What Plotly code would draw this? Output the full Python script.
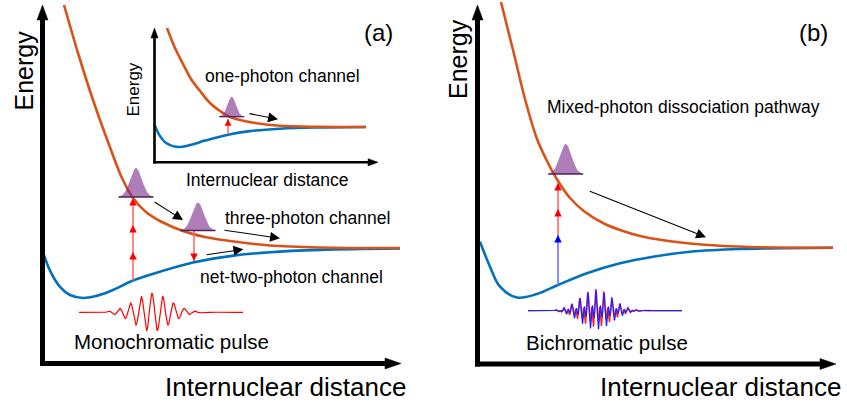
import numpy as np
import plotly.graph_objects as go

W, H = 847, 409
FONT = "Liberation Sans, Arial, Helvetica, sans-serif"

BLUE = "#0072BD"
ORANGE = "#D95319"
PURPLE_FILL = "rgba(126,47,142,0.62)"
PURPLE_LINE = "#4a2456"

# ---------------- potential curves (arbitrary units) ----------------
# panel (a), main diagram
a_ground_R = [1, 8, 18, 28, 41, 53, 68, 91, 118, 151, 188, 228, 278, 358]
a_ground_E = [110.9, 92.4, 76.1, 68.0, 65.0, 66.7, 71.7, 82.5, 91.3, 100.5, 106.9, 110.8, 113.1, 114.5]
a_excited_R = [22, 36, 51, 69, 80, 91, 104, 118, 141, 163, 188, 228, 278, 358]
a_excited_E = [358, 310, 263, 213, 185, 165, 151, 142, 132, 126, 122, 117.5, 115.5, 115]

# panel (a), inset (one-photon channel)
i_ground_R = [1, 6, 12, 24, 36, 51, 74, 96, 126, 166, 212]
i_ground_E = [36.1, 25.9, 19.0, 15.0, 16.9, 21.4, 27.3, 30.9, 33.3, 34.5, 35.0]
i_excited_R = [13, 21, 29, 37, 46, 56, 66, 74, 86, 101, 126, 166, 212]
i_excited_E = [134, 114, 98, 83, 71, 59, 51, 46, 42, 39, 36.2, 35.2, 35]

# panel (b)
b_ground_R = [2, 12, 22, 39, 59, 80, 109, 142, 175, 212, 262, 355]
b_ground_E = [122.3, 97.3, 77.3, 66.5, 70, 79, 90.7, 100.7, 107.3, 112.3, 115, 116.3]
b_excited_R = [23, 35, 47, 59, 70, 80, 92, 107, 125, 142, 162, 187, 212, 242, 282, 355]
b_excited_E = [362, 314, 265, 225, 201, 183, 166, 152, 141, 134, 128, 123.5, 120.5, 118.2, 116.8, 116.3]

# ---------------- transitions ----------------
# vertical photon ladders: (R, list of energy levels from bottom to top)
a_up_R = 91
a_up_levels = [82.5, 111, 138, 165]
a_down_R = 152
a_down_levels = [132, 102]
i_up_R = 74
i_up_levels = [28, 43]
b_up_R = 80
b_up_levels = [79, 129, 155, 181]
b_up_colors = ["blue", "red", "red"]

# nuclear wave packets: (R centre, baseline E, base width, height)
a_packets = [(94, 166, 35, 29), (156, 132.5, 35, 28)]
i_packets = [(77.7, 45.3, 25, 20)]
b_packets = [(87.7, 190, 35, 30)]

# dissociation arrows: (R tail, E tail, R head, E head)
a_flow = [(111, 162, 141, 143), (181, 133, 238, 124.7), (163, 108, 201.3, 113.7)]
i_flow = [(94, 48.7, 124, 42.7)]
b_flow = [(110.3, 173.3, 228, 126.7)]

# laser pulses
mono_centre, mono_base, mono_span = 110, 50.7, (37, 201)
bi_centre, bi_base, bi_span = 118, 53.3, (50, 204)

fig = go.Figure()


def px(x):
    return x / W


def py(y):
    return 1 - y / H


def curve(R, E, color, ax):
    fig.add_trace(go.Scatter(x=R, y=E, mode="lines", line=dict(color=color, width=2.6, shape="spline", smoothing=1.0),
                             xaxis=ax[0], yaxis=ax[1], hoverinfo="skip", showlegend=False))


def packet(Rc, E0, wd, ht, ax):
    x = np.linspace(Rc - wd / 2, Rc + wd / 2, 80)
    sig = wd / 6.0
    y = E0 + ht * np.exp(-0.5 * ((x - Rc) / sig) ** 2)
    fig.add_trace(go.Scatter(x=np.r_[x, x[::-1]], y=np.r_[y, np.full_like(x, E0)], mode="lines", fill="toself",
                             fillcolor=PURPLE_FILL, line=dict(width=0), xaxis=ax[0], yaxis=ax[1],
                             hoverinfo="skip", showlegend=False))
    fig.add_trace(go.Scatter(x=[x[0], x[-1]], y=[E0, E0], mode="lines", line=dict(color=PURPLE_LINE, width=1.3),
                             xaxis=ax[0], yaxis=ax[1], hoverinfo="skip", showlegend=False))


SHAFT = {"red": "#ff6a6a", "blue": "#7070ff"}
HEAD = {"red": "#ff0000", "blue": "#0000ff"}


def ladder(R, levels, colors, ax, headsize=1.0):
    for k in range(len(levels) - 1):
        c = colors[k]
        fig.add_trace(go.Scatter(x=[R, R], y=[levels[k], levels[k + 1]], mode="lines",
                                 line=dict(color=SHAFT[c], width=1.6), xaxis=ax[0], yaxis=ax[1],
                                 hoverinfo="skip", showlegend=False))
        down = levels[k + 1] < levels[k]
        fig.add_annotation(x=R, y=levels[k + 1], xref=ax[0], yref=ax[1], ax=0, ay=(-7 if down else 7),
                           showarrow=True, arrowhead=2, arrowsize=headsize, arrowwidth=1.5, arrowcolor=HEAD[c], text="")


def flow(arrows, ax):
    for (r0, e0, r1, e1) in arrows:
        fig.add_annotation(x=r1, y=e1, ax=r0, ay=e0, xref=ax[0], yref=ax[1], axref=ax[0], ayref=ax[1],
                           showarrow=True, arrowhead=2, arrowsize=1.8, arrowwidth=1.1, arrowcolor="black", text="")


A = ("x", "y")
I = ("x2", "y2")
B = ("x3", "y3")

# potential curves
curve(a_ground_R, a_ground_E, BLUE, A)
curve(a_excited_R, a_excited_E, ORANGE, A)
curve(i_ground_R, i_ground_E, BLUE, I)
curve(i_excited_R, i_excited_E, ORANGE, I)
curve(b_ground_R, b_ground_E, BLUE, B)
curve(b_excited_R, b_excited_E, ORANGE, B)

# photon ladders
ladder(a_up_R, a_up_levels, ["red"] * 3, A)
ladder(a_down_R, a_down_levels, ["red"], A)
ladder(i_up_R, i_up_levels, ["red"], I, headsize=0.9)
ladder(b_up_R, b_up_levels, b_up_colors, B)

# wave packets
for p in a_packets:
    packet(*p, A)
for p in i_packets:
    packet(*p, I)
for p in b_packets:
    packet(*p, B)

flow(a_flow, A)
flow(i_flow, I)
flow(b_flow, B)

# monochromatic pulse: Gaussian envelope with a single carrier
r = np.linspace(*mono_span, 700)
env = np.exp(-0.5 * ((r - mono_centre) / 18.0) ** 2)
fig.add_trace(go.Scatter(x=r, y=mono_base + 19 * env * np.cos(2 * np.pi * (r - mono_centre) / 10.8), mode="lines",
                         line=dict(color="#ff0000", width=1.2), xaxis="x", yaxis="y", hoverinfo="skip", showlegend=False))

# bichromatic pulse: fundamental plus second harmonic, two overlapping field components
r = np.linspace(*bi_span, 1200)
env = np.exp(-0.5 * ((r - bi_centre) / 16.0) ** 2)
ph = 2 * np.pi * (r - bi_centre)
red_field = 0.45 * np.cos(ph / 8.0) + 0.6 * np.cos(ph / 4.0 + 0.6)
blue_field = 0.45 * np.cos(ph / 8.0 + 0.5) + 0.6 * np.cos(ph / 4.0 - 0.3)
fig.add_trace(go.Scatter(x=r, y=bi_base + 21 * env * red_field, mode="lines", line=dict(color="#ff2020", width=1.3),
                         xaxis="x3", yaxis="y3", hoverinfo="skip", showlegend=False))
fig.add_trace(go.Scatter(x=r, y=bi_base + 21 * env * blue_field, mode="lines", line=dict(color="#2020ff", width=1.2),
                         xaxis="x3", yaxis="y3", hoverinfo="skip", showlegend=False))

# ---------------- axes frames drawn as arrows ----------------
shapes = []


def axis_arrow(x0, y0, x1, y1, lw, hl, hw):
    """Thick line from (x0,y0) to the arrow tip (x1,y1) in pixels, with a filled head."""
    d = np.hypot(x1 - x0, y1 - y0)
    ux, uy = (x1 - x0) / d, (y1 - y0) / d
    bx, by = x1 - ux * hl, y1 - uy * hl
    shapes.append(dict(type="line", xref="paper", yref="paper", x0=px(x0), y0=py(y0), x1=px(bx + ux), y1=py(by + uy),
                       line=dict(color="black", width=lw)))
    nx, ny = -uy, ux
    path = "M {},{} L {},{} L {},{} Z".format(px(x1), py(y1), px(bx + nx * hw), py(by + ny * hw),
                                             px(bx - nx * hw), py(by - ny * hw))
    shapes.append(dict(type="path", xref="paper", yref="paper", path=path, fillcolor="black",
                       line=dict(color="black", width=0.5)))


axis_arrow(42.5, 366, 42.5, 5, 5, 15, 5.5)
axis_arrow(40, 363.5, 401, 363.5, 5, 16, 5.5)
axis_arrow(154.5, 163.5, 154.5, 28, 2.6, 10, 3.6)
axis_arrow(153, 162.3, 378, 162.3, 2.6, 10, 3.6)
axis_arrow(477.5, 366.5, 477.5, 5, 5, 15, 5.5)
axis_arrow(475, 364, 836, 364, 5, 16, 5.5)

# ---------------- labels ----------------
labels = [
    ("Energy", 23.5, 71, 25, -90),
    ("Internuclear distance", 285.5, 387, 26, 0),
    ("(a)", 378, 32, 24, 0),
    ("Energy", 133, 89.5, 17, -90),
    ("Internuclear distance", 266.5, 180, 17.5, 0),
    ("one-photon channel", 282.5, 76, 17.5, 0),
    ("three-photon channel", 307, 218, 17.5, 0),
    ("net-two-photon channel", 291.5, 277, 17.5, 0),
    ("Monochromatic pulse", 171, 341, 20.5, 0),
    ("Energy", 458, 59, 25, -90),
    ("(b)", 813, 32, 24, 0),
    ("Internuclear distance", 720, 387, 26, 0),
    ("Mixed-photon dissociation pathway", 683.5, 107, 17.5, 0),
    ("Bichromatic pulse", 607, 342, 20.5, 0),
]
for txt, x, y, s, ang in labels:
    fig.add_annotation(x=px(x), y=py(y), xref="paper", yref="paper", text=txt, showarrow=False,
                       xanchor="center", yanchor="middle", textangle=ang, font=dict(family=FONT, size=s, color="black"))

ax_common = dict(visible=False, showgrid=False, zeroline=False, fixedrange=True)
fig.update_layout(
    width=W, height=H, margin=dict(l=0, r=0, t=0, b=0), paper_bgcolor="white", plot_bgcolor="rgba(0,0,0,0)",
    showlegend=False, shapes=shapes,
    xaxis=dict(domain=[px(42), px(402)], range=[0, 360], anchor="y", **ax_common),
    yaxis=dict(domain=[py(363), 1], range=[0, 363], anchor="x", **ax_common),
    xaxis2=dict(domain=[px(154), px(378)], range=[0, 224], anchor="y2", **ax_common),
    yaxis2=dict(domain=[py(162), py(28)], range=[0, 134], anchor="x2", **ax_common),
    xaxis3=dict(domain=[px(478), px(838)], range=[0, 360], anchor="y3", **ax_common),
    yaxis3=dict(domain=[py(364), 1], range=[0, 364], anchor="x3", **ax_common),
)

fig.write_html("out.html")
